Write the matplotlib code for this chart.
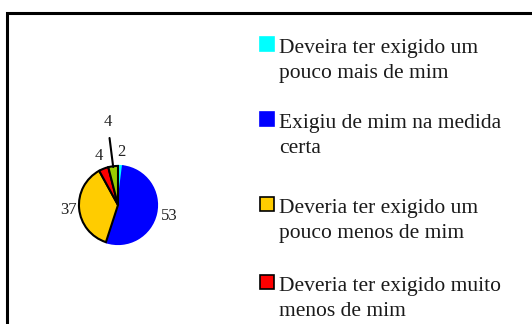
import matplotlib
matplotlib.use("Agg")
import matplotlib.pyplot as plt
from matplotlib.patches import Rectangle
import numpy as np

plt.rcParams['font.family'] = ['Liberation Serif', 'DejaVu Serif']

# data
values = [2, 53, 37, 4, 4]
colors = ['#00FFFF', '#0000FF', '#FFCC00', '#FF0000', '#99CC00']
edges = ['#00FFFF', '#0000FF', 'black', 'black', 'black']
legend_labels = ['Deveira ter exigido um\npouco mais de mim',
                 'Exigiu de mim na medida\ncerta',
                 'Deveria ter exigido um\npouco menos de mim',
                 'Deveria ter exigido muito\nmenos de mim']

W, H = 532, 324
fig = plt.figure(figsize=(W / 100, H / 100), dpi=100)

# outer frame (runs off the right and bottom of the picture)
frame = Rectangle((7 / W, -0.2), 1.2, 1 - 13 / H + 0.2, transform=fig.transFigure,
                  fill=False, lw=2.2, ec='black', clip_on=False)
fig.patches.append(frame)

# pie
cx, cy, r = 118, 205, 41
ax = fig.add_axes([(cx - r) / W, (H - cy - r) / H, 2 * r / W, 2 * r / H])
wedges, _ = ax.pie(values, colors=colors, startangle=90, counterclock=False,
                   radius=1, wedgeprops=dict(linewidth=1.5))
for w, ec in zip(wedges, edges):
    w.set_edgecolor(ec)
ax.set_xlim(-1.05, 1.05)
ax.set_ylim(-1.05, 1.05)
ax.set_aspect('equal')
ax.axis('off')

dist = [1.37, 1.35, 1.28, 1.35, 2.15]
for i, (w, v) in enumerate(zip(wedges, values)):
    ang = np.deg2rad((w.theta1 + w.theta2) / 2)
    x, y = np.cos(ang), np.sin(ang)
    d = dist[i]
    if d > 2:
        ax.annotate(str(v), xy=(x * 0.98, y * 0.98), xytext=(x * d, y * d),
                    ha='center', va='center', fontsize=12, color='#222222',
                    arrowprops=dict(arrowstyle='-', lw=1.5, color='black',
                                    shrinkA=4, shrinkB=0),
                    annotation_clip=False)
    else:
        ax.text(x * d, y * d, str(v), ha='center', va='center',
                fontsize=12, color='#222222', clip_on=False)

# legend (entry tops in pixels)
tops = [37, 112, 197, 275]
for top, lab, c, ec in zip(tops, legend_labels, colors, edges):
    sq = Rectangle((260 / W, (H - top - 14) / H), 14 / W, 14 / H,
                   transform=fig.transFigure, fc=c, ec=ec, lw=1.2)
    fig.patches.append(sq)
    fig.text(279 / W, (H - top - 2) / H, lab, ha='left', va='top',
             fontsize=15.5, color='#1a1a1a', linespacing=1.45)

fig.savefig('out.png', dpi=100)
